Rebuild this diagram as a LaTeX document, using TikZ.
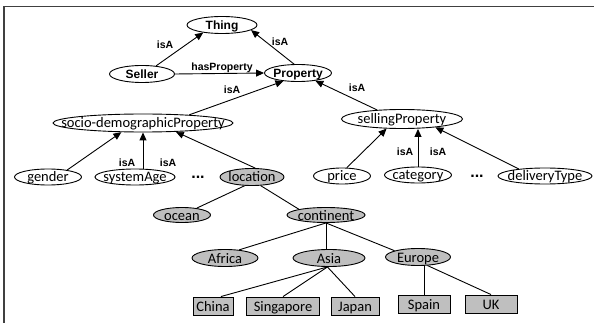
\documentclass[tikz,border=0pt]{standalone}
\usepackage{fontspec}
\setmainfont{Carlito}
\newfontfamily\arialb{Liberation Sans}
\usetikzlibrary{arrows.meta,shapes.geometric}

\tikzset{
	nodebase/.style={inner sep=0pt, text height=10pt, text depth=0pt,
		font=\fontsize{14.5}{16}\selectfont,
		execute at begin node={\hbox to 0pt\bgroup\hss},
		execute at end node={\hss\egroup}},
	cls/.style={nodebase, ellipse, draw, line width=0.9pt, minimum height=17pt},
	headcls/.style={cls, font=\arialb\bfseries\fontsize{12}{14}\selectfont, text height=9pt},
	geo/.style={cls, fill=gray!50},
	city/.style={nodebase, rectangle, draw, line width=0.9pt, fill=gray!50, minimum height=18pt},
	isa/.style={-{Triangle[length=8pt,width=7pt]}, line width=0.9pt},
	plain/.style={line width=0.9pt},
	lbl/.style={font=\arialb\bfseries\fontsize{10.5}{12}\selectfont, inner sep=0pt},
	more/.style={font=\arialb\bfseries\fontsize{16}{18}\selectfont, inner sep=0pt},
	frame/.style={line width=1.3pt, black!75}
}

\begin{document}
\begin{tikzpicture}[x=1pt, y=-1pt]
	\useasboundingbox (0,0) rectangle (594,323);
	\draw[frame] (4,323) -- (4,6.5) -- (594,6.5);

	% upper classes
	\node[headcls, minimum width=70pt] (thing) at (222,25) {Thing};
	\node[headcls, minimum width=65pt] (seller) at (142,74) {Seller};
	\node[headcls, minimum width=67pt] (property) at (298,73) {Property};
	\node[cls, minimum width=180pt, minimum height=18pt] (socio) at (143,123) {socio-demographicProperty};
	\node[cls, minimum width=121pt, minimum height=19pt] (selling) at (402,119) {sellingProperty};

	% properties
	\node[cls, minimum width=67pt, minimum height=16pt] (gender) at (48,177) {gender};
	\node[cls, minimum width=80pt, minimum height=16pt] (systemAge) at (135,177) {systemAge};
	\node[more] (dots1) at (198,177) {...};
	\node[geo, minimum width=64pt] (location) at (252,177) {location};
	\node[cls, minimum width=57pt, minimum height=16pt] (price) at (342,176) {price};
	\node[cls, minimum width=67pt, minimum height=16pt] (category) at (418,175) {category};
	\node[more] (dots2) at (477,176) {...};
	\node[cls, minimum width=94pt, minimum height=16pt] (delivery) at (545,176) {deliveryType};

	% location values
	\node[geo, minimum width=57pt, minimum height=15pt] (ocean) at (182,215) {ocean};
	\node[geo, minimum width=78pt, minimum height=15pt] (continent) at (326,215) {continent};
	\node[geo, minimum width=66pt] (africa) at (225,258) {Africa};
	\node[geo, minimum width=72pt] (asia) at (329,258) {Asia};
	\node[geo, minimum width=65pt] (europe) at (418,257) {Europe};
	\node[city, minimum width=40pt] (china) at (213,306) {China};
	\node[city, minimum width=73pt] (singapore) at (283,306) {Singapore};
	\node[city, minimum width=48pt] (japan) at (355,306) {Japan};
	\node[city, minimum width=52pt] (spain) at (424,304) {Spain};
	\node[city, minimum width=52pt] (uk) at (491,304) {UK};

	% isA links
	\draw[isa] (seller.30) -- (thing.202);
	\draw[isa] (property.114) -- (thing.-10);
	\draw[isa] (seller.east) -- (property.west);
	\draw[isa] (socio.10) -- (property.209);
	\draw[isa] (selling.160) -- (property.-24);
	\draw[isa] (gender.20) -- (socio.203);
	\draw[isa] (systemAge.north -| socio.south) -- (socio.south);
	\draw[isa] (location.70) -- (socio.-15);
	\draw[isa] (price.60) -- (selling.212);
	\draw[isa] (category.north) -- (category.north |- selling.south);
	\draw[isa] (delivery.165) -- (selling.-14);

	% value tree
	\draw[plain] (location.230) -- (ocean.25);
	\draw[plain] (location.-45) -- (continent.168);
	\draw[plain] (continent.south) -- (africa.30);
	\draw[plain] (continent.south) -- (continent.south |- asia.north);
	\draw[plain] (continent.south) -- (europe.165);
	\draw[plain] (asia.260) -- (china.50);
	\draw[plain] (asia.260) -- (singapore.north);
	\draw[plain] (asia.260) -- (japan.north);
	\draw[plain] (spain.north |- europe.south) -- (spain.north);
	\draw[plain] (europe.-42) -- (uk.north);

	% link labels
	\node[lbl] (isA1) at (165,45) {isA};
	\node[lbl] (isA2) at (280,42) {isA};
	\node[lbl] (has) at (222,68) {hasProperty};
	\node[lbl] (isA3) at (232,90) {isA};
	\node[lbl] (isA4) at (357,88) {isA};
	\node[lbl] (isA5) at (127,163) {isA};
	\node[lbl] (isA6) at (168,163) {isA};
	\node[lbl] (isA7) at (405,152) {isA};
	\node[lbl] (isA8) at (438,152) {isA};
\end{tikzpicture}
\end{document}
